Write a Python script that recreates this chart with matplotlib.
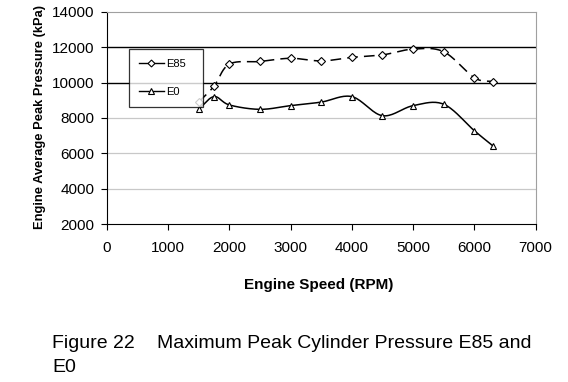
import numpy as np
import matplotlib
matplotlib.use("Agg")
import matplotlib.pyplot as plt
from matplotlib.lines import Line2D

plt.rcParams['font.family'] = ['Liberation Sans', 'DejaVu Sans']

# data
rpm_e85 = [1500, 1750, 2000, 2500, 3000, 3500, 4000, 4500, 5000, 5500, 6000, 6300]
p_e85 = [8900, 9800, 11050, 11200, 11380, 11230, 11430, 11570, 11900, 11750, 10280, 10060]
rpm_e0 = [1500, 1750, 2000, 2500, 3000, 3500, 4000, 4500, 5000, 5500, 6000, 6300]
p_e0 = [8500, 9210, 8740, 8490, 8700, 8900, 9210, 8130, 8700, 8780, 7280, 6430]


def smooth(x, y, n=20):
    # catmull-rom curve through the points, like excel's smoothed line
    x = np.asarray(x, float)
    y = np.asarray(y, float)
    px = np.concatenate([[2 * x[0] - x[1]], x, [2 * x[-1] - x[-2]]])
    py = np.concatenate([[2 * y[0] - y[1]], y, [2 * y[-1] - y[-2]]])
    xs, ys = [], []
    t = np.linspace(0, 1, n)
    for i in range(1, len(px) - 2):
        for arr, out in ((px, xs), (py, ys)):
            p0, p1, p2, p3 = arr[i - 1], arr[i], arr[i + 1], arr[i + 2]
            out.extend(0.5 * (2 * p1 + (-p0 + p2) * t
                              + (2 * p0 - 5 * p1 + 4 * p2 - p3) * t ** 2
                              + (-p0 + 3 * p1 - 3 * p2 + p3) * t ** 3))
    return xs, ys


fig = plt.figure(figsize=(5.68, 3.82), dpi=100)
ax = fig.add_axes([0.188, 0.4136, 0.755, 0.555])

ax.set_xlim(0, 7000)
ax.set_ylim(2000, 14000)
ax.set_xticks(range(0, 7001, 1000))
ax.set_yticks(range(2000, 14001, 2000))

for v in [4000, 6000, 8000]:
    ax.axhline(v, color='#c8c8c8', lw=0.9, zorder=1)
for v in [10000, 12000]:
    ax.axhline(v, color='black', lw=1.0, zorder=1)

sx, sy = smooth(rpm_e85, p_e85)
ax.plot(sx, sy, color='black', lw=1.1, dashes=(7, 4), zorder=3)
ax.plot(rpm_e85, p_e85, ls='none', marker='D', ms=4, mfc='white', mec='black',
        mew=0.8, zorder=4)
sx, sy = smooth(rpm_e0, p_e0)
ax.plot(sx, sy, color='black', lw=1.1, zorder=3)
ax.plot(rpm_e0, p_e0, ls='none', marker='^', ms=5, mfc='white', mec='black',
        mew=0.8, zorder=4)

for s in ['top', 'right']:
    ax.spines[s].set_color('#a0a0a0')
for s in ['left', 'bottom']:
    ax.spines[s].set_color('black')
ax.tick_params(direction='out', length=4, width=0.8, labelsize=11, pad=5)
ax.tick_params(axis='x', pad=8)

ax.set_ylabel('Engine Average Peak Pressure (kPa)', fontsize=9.3,
              fontweight='bold', va='center')
ax.yaxis.set_label_coords(-0.156, 0.507)
ax.set_xlabel('Engine Speed (RPM)', fontsize=11, fontweight='bold', va='center')
ax.xaxis.set_label_coords(0.495, -0.288)

handles = [
    Line2D([], [], color='black', lw=1.0, marker='D', ms=3.5, mfc='white', mec='black', mew=0.8),
    Line2D([], [], color='black', lw=1.0, marker='^', ms=4.5, mfc='white', mec='black', mew=0.8),
]
leg = ax.legend(handles, ['E85', 'E0'], loc='lower left',
                bbox_to_anchor=(0.051, 0.552, 0.173, 0.292), mode='expand',
                fontsize=8, frameon=True, fancybox=False, handlelength=2.3,
                handletextpad=0.2, labelspacing=1.6, borderpad=0.9,
                borderaxespad=0)
leg.get_frame().set_edgecolor('black')
leg.get_frame().set_linewidth(0.9)
leg.set_zorder(5)

# caption under the chart
fig.text(52 / 568, 1 - 343 / 382, 'Figure 22', fontsize=14, ha='left', va='center')
fig.text(157 / 568, 1 - 343 / 382, 'Maximum Peak Cylinder Pressure E85 and',
         fontsize=14, ha='left', va='center')
fig.text(52 / 568, 1 - 368 / 382, 'E0', fontsize=14, ha='left', va='center')

fig.savefig('out.png', dpi=100)
